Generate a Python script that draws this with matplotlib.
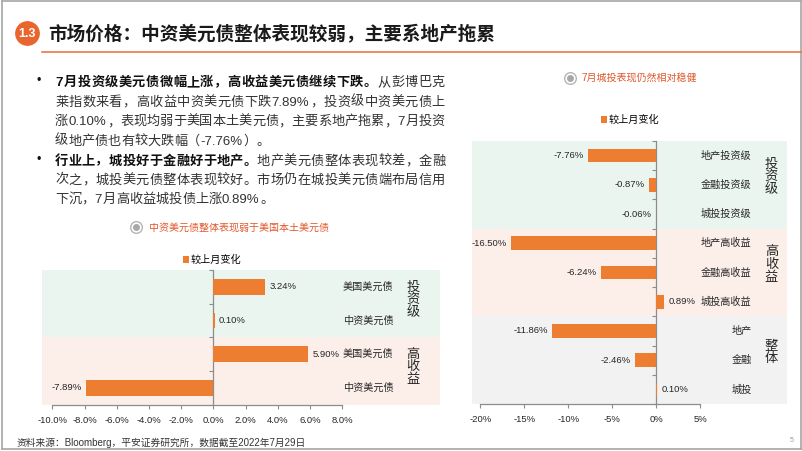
import matplotlib
matplotlib.use('Agg')
import matplotlib.pyplot as plt
from matplotlib.lines import Line2D
import numpy as np

plt.rcParams['font.family'] = ['Liberation Sans', 'Noto Sans CJK SC']
plt.rcParams['axes.unicode_minus'] = False

# ---------------- data ----------------
left_categories = ['美国美元债', '中资美元债', '美国美元债', '中资美元债']
left_values = [3.24, 0.10, 5.90, -7.89]
left_groups = ['投资级', '高收益']
left_xticks = [-10, -8, -6, -4, -2, 0, 2, 4, 6, 8]

right_categories = ['地产投资级', '金融投资级', '城投投资级',
                    '地产高收益', '金融高收益', '城投高收益',
                    '地产', '金融', '城投']
right_values = [-7.76, -0.87, -0.06, -16.50, -6.24, 0.89, -11.86, -2.46, 0.10]
right_groups = ['投资级', '高收益', '整体']
right_xticks = [-20, -15, -10, -5, 0, 5]

series_name = '较上月变化'
title = '市场价格：中资美元债整体表现较弱，主要系地产拖累'
section_no = '1.3'
left_subtitle = '中资美元债整体表现弱于美国本土美元债'
right_subtitle = '7月城投表现仍然相对稳健'
source_note = '资料来源：Bloomberg，平安证券研究所，数据截至2022年7月29日'
page_no = '5'

bullet1 = [
    [('7月投资级美元债微幅上涨，高收益美元债继续下跌。', True), ('从彭博巴克', False)],
    [('莱指数来看，高收益中资美元债下跌7.89%，投资级中资美元债上', False)],
    [('涨0.10%，表现均弱于美国本土美元债，主要系地产拖累，7月投资', False)],
    [('级地产债也有较大跌幅（-7.76%）。', False)],
]
bullet2 = [
    [('行业上，城投好于金融好于地产。', True), ('地产美元债整体表现较差，金融', False)],
    [('次之，城投美元债整体表现较好。市场仍在城投美元债端布局信用', False)],
    [('下沉，7月高收益城投债上涨0.89%。', False)],
]

# ---------------- style ----------------
W, H = 802, 451
ORANGE = '#ED7D31'
TITLE_OR = '#E8652E'
SUB_OR = '#E0572B'
GREEN = '#EAF5EF'
PINK = '#FCEFEA'
GRAY = '#F2F2F2'
AXC = '#8C8C8C'
TXT = '#262626'

fig = plt.figure(figsize=(W / 100, H / 100), dpi=100)
fig.patch.set_facecolor('white')


def fx(px):
    return px / W


def fy(py):
    return 1 - py / H


# slide border
for xs, ys in [((1.5, 800.5), (0.5, 0.5)), ((1.5, 800.5), (449.3, 449.3)),
               ((1.5, 1.5), (0.5, 449.3)), ((800.5, 800.5), (0.5, 449.3))]:
    fig.add_artist(Line2D([fx(xs[0]), fx(xs[1])], [fy(ys[0]), fy(ys[1])],
                          transform=fig.transFigure, color='#A6A6A6', lw=1.2))

# title
fig.add_artist(Line2D([fx(26.7)], [fy(33.3)], transform=fig.transFigure, marker='o',
                      markersize=16.8, markerfacecolor=TITLE_OR, markeredgecolor=TITLE_OR,
                      linestyle='none'))
fig.text(fx(26.7), fy(33.6), section_no, color='white', fontsize=9, fontweight='bold',
         ha='center', va='center')
fig.text(fx(48.5), fy(33.3), title, fontsize=13.4, fontweight='bold', color='#1A1A1A',
         ha='left', va='center')
fig.add_artist(Line2D([fx(41.7), fx(802)], [fy(51.7), fy(51.7)], transform=fig.transFigure,
                      color='#E2703A', lw=1.1))

# body text (justified)
BODY_FS = 9.5
em = BODY_FS * 100 / 72
renderer = fig.canvas.get_renderer()


def place_line(segs, x0, yc, target=None):
    toks = []
    for txt, bold in segs:
        buf = ''
        for ch in txt:
            if ord(ch) < 128:
                buf += ch
            else:
                if buf:
                    toks.append((buf, bold))
                    buf = ''
                toks.append((ch, bold))
        if buf:
            toks.append((buf, bold))
    items = []
    for tok, bold in toks:
        t = fig.text(0, 0, tok, fontsize=BODY_FS,
                     fontweight='bold' if bold else 'normal',
                     color='#111111' if bold else '#333333',
                     ha='left', va='baseline')
        if ord(tok[0]) < 128:
            w = t.get_window_extent(renderer).width + 0.08 * em
        else:
            w = em
        items.append((t, w))
    total = sum(w for _, w in items)
    gap = (target - total) / (len(items) - 1) if target else 0
    x = x0
    yb = yc + 0.38 * em
    for t, w in items:
        t.set_position((fx(x), fy(yb)))
        x += w + gap


line_y1 = [81, 100.5, 120, 139.5]
line_y2 = [159.5, 178.5, 197.5]
for ys, para in [(line_y1, bullet1), (line_y2, bullet2)]:
    fig.text(fx(38.5), fy(ys[0]), '•', fontsize=9, color='#111111', ha='center', va='center')
    for i, (yy, segs) in enumerate(zip(ys, para)):
        last = i == len(para) - 1
        place_line(segs, 55, yy, None if last else 390)


def subtitle(xc, yc, xt, text):
    fig.add_artist(Line2D([fx(xc)], [fy(yc)], transform=fig.transFigure, marker='o',
                          markersize=8.4, markerfacecolor='white', markeredgecolor='#B5B5B5',
                          markeredgewidth=1.0, linestyle='none'))
    fig.add_artist(Line2D([fx(xc)], [fy(yc)], transform=fig.transFigure, marker='o',
                          markersize=4, markerfacecolor='#A8A8A8', markeredgecolor='#A8A8A8',
                          linestyle='none'))
    fig.text(fx(xt), fy(yc), text, fontsize=7.2, color=SUB_OR, ha='left', va='center')


subtitle(136, 227.3, 148.5, left_subtitle)
subtitle(570, 77.7, 582, right_subtitle)


def make_chart(rect, xlim, cats, vals, groups, spans, xticks, fmt, bounds,
               cat_x, grp_x, grp_off, legend_xy):
    ax = fig.add_axes(rect)
    ax.set_facecolor('none')
    n = len(cats)
    ax.set_xlim(*xlim)
    ax.set_ylim(n - 0.5, -0.5)
    start = -0.5
    for (cnt, col), g in zip(spans, groups):
        ax.axhspan(start, start + cnt, color=col, lw=0, zorder=0)
        ctr = start + cnt / 2 + grp_off
        ax.text(grp_x, ctr, '\n'.join(g), ha='center', va='center', fontsize=9.5,
                color='#262626', linespacing=1.05)
        start += cnt
    bars = ax.barh(np.arange(n), vals, height=0.47, color=ORANGE, zorder=3, label=series_name)
    ax.bar_label(bars, labels=[f'{v:.2f}%' for v in vals], padding=3, fontsize=6.8,
                 color=TXT)
    for i, c in enumerate(cats):
        ax.text(cat_x, i, c, ha='right', va='center', fontsize=7.3, color=TXT)
    for s in ['top', 'right']:
        ax.spines[s].set_visible(False)
    ax.spines['left'].set_position(('data', 0))
    ax.spines['left'].set_color(AXC)
    ax.spines['bottom'].set_color(AXC)
    ax.spines['left'].set_linewidth(0.9)
    ax.spines['bottom'].set_linewidth(0.9)
    ax.spines['bottom'].set_bounds(*bounds)
    ax.set_yticks(np.arange(-0.5, n, 1))
    ax.set_yticklabels([])
    ax.tick_params(axis='y', direction='out', length=3, color=AXC, width=0.8)
    ax.set_xticks(xticks)
    ax.set_xticklabels([fmt(v) for v in xticks])
    ax.tick_params(axis='x', direction='out', length=3, color=AXC, width=0.8,
                   labelsize=6.8, labelcolor=TXT, pad=5)
    ax.legend(handles=[bars], loc='center', bbox_to_anchor=legend_xy,
              bbox_transform=fig.transFigure, frameon=False, fontsize=7.3,
              handlelength=0.55, handleheight=0.55, handletextpad=0.15, borderpad=0)
    return ax


# left chart
make_chart([fx(42), fy(404.5), (440 - 42) / W, (404.5 - 270) / H],
           (-10.64, 14.08), left_categories, left_values, left_groups,
           [(2, GREEN), (2, PINK)], left_xticks, lambda v: f'{v:.1f}%', (-10, 8),
           11.2, 12.4, -0.1, (fx(212), fy(260)))

# right chart
make_chart([fx(471.7), fy(404), (786.7 - 471.7) / W, (404 - 141) / H],
           (-20.97, 14.83), right_categories, right_values, right_groups,
           [(3, GREEN), (3, PINK), (3, GRAY)], right_xticks, lambda v: f'{v}%', (-20, 5),
           10.85, 13.1, -0.25, (fx(630), fy(120)))

# source + page number
fig.text(fx(17), fy(443.3), source_note, fontsize=7, color='#333333', ha='left', va='center')
fig.text(fx(792), fy(440.5), page_no, fontsize=5, color='#999999', ha='center', va='center')

fig.savefig('out.png', dpi=100)
